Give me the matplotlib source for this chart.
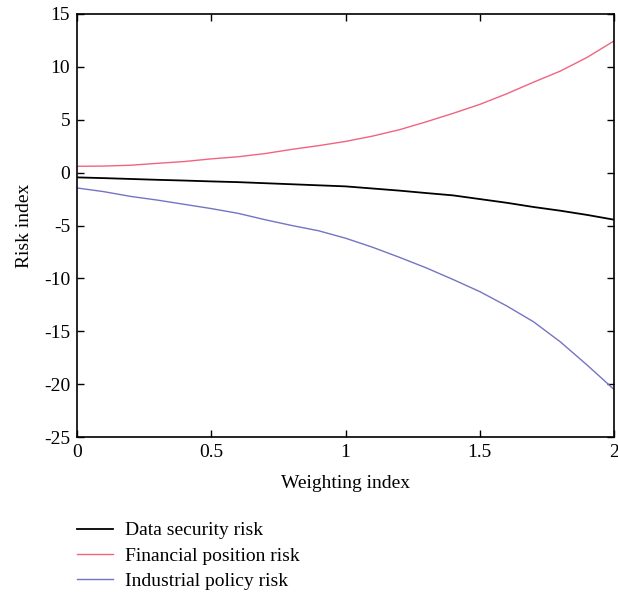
import numpy as np
from matplotlib import pyplot as plt

weighting = [0.0, 0.1, 0.2, 0.3, 0.4, 0.5, 0.6, 0.7, 0.8, 0.9, 1.0,
             1.1, 1.2, 1.3, 1.4, 1.5, 1.6, 1.7, 1.8, 1.9, 2.0]
data_security = [-0.45, -0.52, -0.6, -0.68, -0.75, -0.83, -0.9, -1.0, -1.1, -1.2, -1.3,
                 -1.5, -1.7, -1.93, -2.15, -2.5, -2.85, -3.25, -3.6, -4.0, -4.45]
financial = [0.6, 0.62, 0.7, 0.88, 1.05, 1.3, 1.5, 1.8, 2.2, 2.55, 2.95,
             3.45, 4.05, 4.8, 5.6, 6.45, 7.45, 8.55, 9.6, 10.9, 12.45]
industrial = [-1.45, -1.8, -2.25, -2.6, -3.0, -3.4, -3.85, -4.45, -5.0, -5.5, -6.2,
              -7.05, -8.0, -9.0, -10.1, -11.25, -12.6, -14.1, -16.0, -18.2, -20.5]

plt.rcParams['font.family'] = ['Liberation Serif', 'DejaVu Serif']
plt.rcParams['font.size'] = 14

fig = plt.figure(figsize=(6.18, 5.97), dpi=100)
ax = fig.add_axes([77 / 618, 1 - 437 / 597, (614 - 77) / 618, (437 - 14) / 597])

ax.plot(weighting, data_security, color='black', lw=1.3, label='Data security risk')
ax.plot(weighting, financial, color='#f06480', lw=1.0, label='Financial position risk')
ax.plot(weighting, industrial, color='#7474c4', lw=1.0, label='Industrial policy risk')

ax.set_xlim(0, 2)
ax.set_ylim(-25, 15)
ax.set_xticks([0, 0.5, 1, 1.5, 2])
ax.set_xticklabels(['0', '0.5', '1', '1.5', '2'])
ax.set_yticks(np.arange(-25, 16, 5))
ax.set_yticklabels([str(v) for v in range(-25, 16, 5)])
ax.tick_params(direction='in', top=True, right=True, length=5, width=1, pad=5)
for s in ax.spines.values():
    s.set_linewidth(1.2)
ax.set_xlabel('Weighting index', labelpad=10)
ax.set_ylabel('Risk index', labelpad=8)

fig.legend(loc='upper left', bbox_to_anchor=(69 / 618, 1 - 514 / 597), frameon=False,
           handlelength=1.85, handletextpad=0.65, labelspacing=0.4, borderaxespad=0)

fig.savefig('out.png', dpi=100)
